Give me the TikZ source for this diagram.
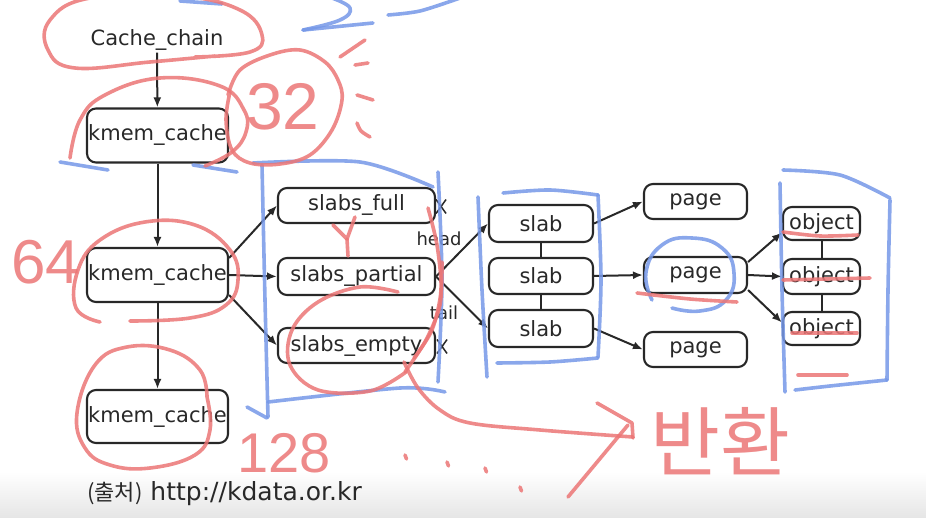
\documentclass[tikz,border=0pt]{standalone}
\usepackage{fontspec}
\setmainfont{DejaVu Sans}
\newfontfamily\kr{Noto Sans CJK KR}
\newfontfamily\hand{Liberation Sans}
\usetikzlibrary{arrows.meta,calc}
\definecolor{annred}{RGB}{236,118,118}
\definecolor{annblue}{RGB}{118,152,232}
\definecolor{ink}{RGB}{40,40,40}
\begin{document}
\begin{tikzpicture}[x=1pt,y=-1pt,
  box/.style={draw=ink, line width=2.1pt, rounded corners=9pt, inner sep=0pt, text=ink, font=\fontsize{21}{24}\selectfont},
  arr/.style={draw=ink, line width=2pt, -{Latex[length=10pt,width=8pt]}},
  lnk/.style={draw=ink, line width=2pt},
  lbl/.style={text=ink, inner sep=1pt, font=\fontsize{18}{20}\selectfont},
  rd/.style={draw=annred, line width=3.6pt, line cap=round, line join=round, opacity=0.85},
  bl/.style={draw=annblue, line width=3.6pt, line cap=round, line join=round, opacity=0.85},
  handtxt/.style={text=annred, opacity=0.85, inner sep=0pt},
]
\useasboundingbox (0,0) rectangle (926,518);
\fill[white] (0,0) rectangle (926,518);
\shade[top color=white, bottom color=black!10] (0,472) rectangle (926,518);

% ---------- printed diagram ----------
\node[text=ink, inner sep=2pt, font=\fontsize{21}{24}\selectfont] (cc) at (157,40) {Cache\_chain};
\node[box, minimum width=141pt, minimum height=54pt] (k1) at (157.5,135.5) {kmem\_cache};
\node[box, minimum width=141pt, minimum height=54pt] (k2) at (157.5,275) {kmem\_cache};
\node[box, minimum width=141pt, minimum height=53pt] (k3) at (157.5,416.5) {kmem\_cache};

\node[box, minimum width=157pt, minimum height=35pt] (sf) at (356.5,205.5) {slabs\_full};
\node[box, minimum width=157pt, minimum height=37pt] (sp) at (356.5,276.5) {slabs\_partial};
\node[box, minimum width=157pt, minimum height=35pt] (se) at (356.5,345.5) {slabs\_empty};

\node[box, minimum width=104pt, minimum height=37pt] (s1) at (541,223.5) {slab};
\node[box, minimum width=104pt, minimum height=36pt] (s2) at (541,276) {slab};
\node[box, minimum width=104pt, minimum height=37pt] (s3) at (541,328.5) {slab};

\node[box, minimum width=103pt, minimum height=35pt] (p1) at (695.5,201.5) {page};
\node[box, minimum width=103pt, minimum height=36pt] (p2) at (695.5,275) {page};
\node[box, minimum width=103pt, minimum height=35pt] (p3) at (695.5,349.5) {page};

\node[box, minimum width=77pt, minimum height=33pt] (o1) at (821.5,223.5) {object};
\node[box, minimum width=77pt, minimum height=35pt] (o2) at (821.5,276.5) {object};
\node[box, minimum width=77pt, minimum height=33pt] (o3) at (821.5,328.5) {object};

\draw[arr] (cc) -- (k1);
\draw[arr] (k1) -- (k2);
\draw[arr] (k2) -- (k3);

\draw[arr] ([yshift=17pt]k2.east) -- (sf.west);
\draw[arr] (k2.east) -- (sp.west);
\draw[arr] ([yshift=-20pt]k2.east) -- (se.west);

\draw[arr] (sp.east) -- (s1.west);
\draw[arr] (sp.east) -- (s3.west);
\node[lbl] (hd) at (439,239) {head};
\node[lbl] (tl) at (444,313) {tail};

\coordinate (xf) at ($(sf.east)+(5,1)$);
\coordinate (xe) at ($(se.east)+(6,1)$);
\draw[lnk, line width=1.5pt] ($(xf)+(-5,-7)$) -- ($(xf)+(5,7)$) ($(xf)+(5,-7)$) -- ($(xf)+(-5,7)$);
\draw[lnk, line width=1.5pt] ($(xe)+(-5,-7)$) -- ($(xe)+(5,7)$) ($(xe)+(5,-7)$) -- ($(xe)+(-5,7)$);

\draw[lnk] (s1) -- (s2);
\draw[lnk] (s2) -- (s3);
\draw[arr] (s1.east) -- (p1.west);
\draw[arr] (s2.east) -- (p2.west);
\draw[arr] (s3.east) -- (p3.west);

\draw[arr] ([yshift=13pt]p2.east) -- ([yshift=-9pt]o1.west);
\draw[arr] (p2.east) -- (o2.west);
\draw[arr] ([yshift=-15pt]p2.east) -- ([yshift=6pt]o3.west);
\draw[lnk] (o1) -- (o2);
\draw[lnk] (o2) -- (o3);

\node[anchor=west, text=ink, inner sep=0pt, font=\fontsize{25}{28}\selectfont] (src) at (87,494) {{\kr\fontsize{22}{26}\selectfont (출처)} http://kdata.or.kr};

% ---------- blue annotations ----------
\draw[bl] (180,1) -- (222,4);
\draw[bl] plot[smooth, tension=0.7] coordinates {(332,-2) (350,8) (340,20) (303,30)};
\draw[bl] (303,30) -- (373,23);
\draw[bl] plot[smooth] coordinates {(388,15) (420,11) (460,-2)};
\draw[bl] (60,162) -- (108,170);
\draw[bl] (193,165) -- (237,172);
% bracket round the slab lists
\draw[bl] plot[smooth] coordinates {(253,163) (360,162) (433,187)};
\draw[bl] plot[smooth] coordinates {(262,165) (265,300) (268,417)};
\draw[bl] (247,407) -- (267,418);
\draw[bl] plot[smooth] coordinates {(268,402) (400,388) (445,392)};
\draw[bl] plot[smooth] coordinates {(438,172) (442,280) (438,382)};
% bracket round the slabs
\draw[bl] plot[smooth] coordinates {(478,197) (482,290) (487,377)};
\draw[bl] plot[smooth] coordinates {(503,193) (550,190) (598,195)};
\draw[bl] plot[smooth] coordinates {(598,195) (601,280) (598,357)};
\draw[bl] plot[smooth] coordinates {(497,363) (550,362) (598,358)};
% circle round the middle page
\draw[bl] plot[smooth, tension=0.8] coordinates {(652,300) (646,272) (662,245) (692,238) (722,248) (734,273) (726,300) (700,311) (672,308)};
% bracket round the objects
\draw[bl] plot[smooth] coordinates {(783,170) (840,175) (890,198)};
\draw[bl] plot[smooth] coordinates {(780,183) (782,290) (785,392)};
\draw[bl] plot[smooth] coordinates {(890,200) (888,290) (887,380)};
\draw[bl] plot[smooth] coordinates {(795,390) (830,386) (887,380)};

% ---------- red annotations ----------
\draw[rd] plot[smooth, tension=0.7] coordinates {(195,57) (250,52) (262,35) (240,10) (180,-4) (90,-2) (50,20) (48,50) (75,68) (150,62) (215,56)};
\draw[rd] plot[smooth, tension=0.7] coordinates {(70,158) (80,120) (105,95) (160,78) (220,86) (244,110) (246,132) (232,152) (205,166)};
\draw[rd] plot[smooth, tension=0.6] coordinates {(228,95) (240,70) (270,55) (300,50) (325,62) (338,80) (342,100) (332,130) (310,155) (280,164) (250,163) (232,150) (226,120) (230,92)};
\draw[rd] (340,57) -- (365,40);
\draw[rd] (355,65) -- (368,63);
\draw[rd] (357,95) -- (373,100);
\draw[rd] plot[smooth] coordinates {(357,123) (361,131) (370,137)};
\node[handtxt, font=\hand\fontsize{66}{66}\selectfont] (n32) at (283,107) {32};
\node[handtxt, font=\hand\fontsize{62}{62}\selectfont] (n64) at (46,262) {64};
\node[handtxt, font=\hand\fontsize{56}{56}\selectfont] (n128) at (284,453) {128};
\draw[rd] plot[smooth, tension=0.7] coordinates {(100,322) (76,308) (78,270) (100,240) (145,222) (195,225) (230,250) (238,280) (226,305) (190,318) (130,321)};
\draw[rd] plot[smooth, tension=0.7] coordinates {(207,397) (210,430) (195,455) (150,468) (110,465) (85,448) (77,413) (95,365) (127,347) (170,350) (200,370) (207,397)};
% slabs_empty and its arrow
\draw[rd] plot[smooth, tension=0.6] coordinates {(398,292) (360,287) (318,302) (292,330) (290,365) (318,390) (370,391) (406,372)};
\draw[rd] plot[smooth, tension=0.6] coordinates {(404,362) (418,388) (440,410) (470,423) (540,430) (633,437)};
\draw[rd] (597,403) -- (632,423) -- (633,438);
\draw[rd] (628,425) -- (568,497);
\node[handtxt, font=\kr\fontsize{76}{76}\selectfont] (ret) at (720,441) {반환};
\draw[rd] plot[smooth] coordinates {(428,208) (437,245) (441,290) (432,330) (414,358)};
\draw[rd] plot[smooth] coordinates {(442,262) (440,305) (426,340) (405,372)};
\draw[rd] (333,225) -- (347,239) -- (355,217);
\draw[rd] (347,239) -- (348,256);
\foreach \a/\b in {405/455, 447/462, 485/468, 520/487}
  \draw[rd] (\a,\b) -- ++(1.5,4);
% underlines
\draw[rd] plot[smooth] coordinates {(637,293) (690,299) (737,302)};
\draw[rd] plot[smooth] coordinates {(783,232) (820,236) (858,235)};
\draw[rd] (783,280) -- (870,278);
\draw[rd] (792,333) -- (857,333);
\draw[rd] (798,375) -- (847,375);
\end{tikzpicture}
\end{document}
